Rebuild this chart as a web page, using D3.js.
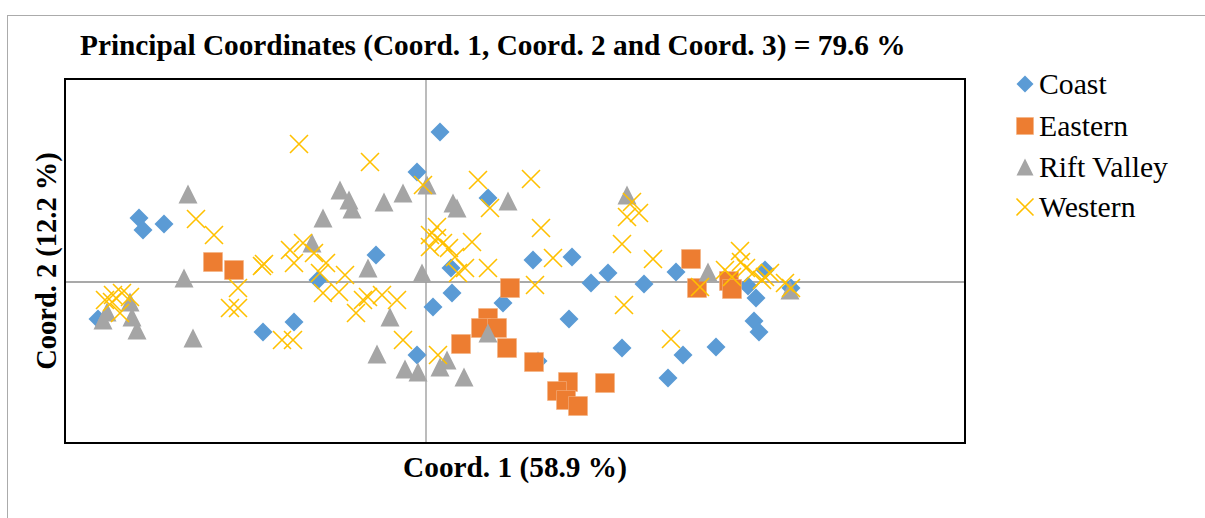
<!DOCTYPE html>
<html><head><meta charset="utf-8">
<script src="https://cdn.jsdelivr.net/npm/d3@7"></script>
<style>body{margin:0;background:#fff}svg{display:block}</style>
</head><body>
<script>
// ---- data (Coord.1, Coord.2) ----
const coast = [[0.014,0.150],[-0.009,0.110],[-0.287,0.064],[-0.283,0.052],[-0.262,0.058],[0.062,0.084],[-0.050,0.027],[-0.108,0.002],[0.025,0.014],[0.007,-0.025],[0.026,-0.011],[0.077,-0.021],[0.107,0.022],[0.146,0.025],[0.165,-0.001],[0.182,0.009],[0.218,-0.002],[0.250,0.010],[0.143,-0.037],[0.196,-0.066],[-0.163,-0.050],[-0.132,-0.040],[-0.009,-0.073],[0.242,-0.096],[0.257,-0.073],[0.290,-0.065],[0.322,-0.004],[0.330,-0.016],[0.328,-0.039],[0.333,-0.050],[0.339,0.012],[0.365,-0.006],[-0.328,-0.037],[0.112,-0.079]];
const eastern = [[-0.213,0.020],[-0.192,0.012],[0.084,-0.006],[0.062,-0.036],[0.055,-0.046],[0.071,-0.046],[0.035,-0.062],[0.081,-0.066],[0.108,-0.080],[0.142,-0.100],[0.131,-0.109],[0.140,-0.118],[0.152,-0.124],[0.179,-0.101],[0.265,0.023],[0.271,-0.006],[0.303,0.001],[0.306,-0.007]];
const riftValley = [[-0.319,-0.030],[-0.323,-0.038],[-0.296,-0.020],[-0.294,-0.035],[-0.289,-0.048],[-0.238,0.088],[-0.242,0.004],[-0.233,-0.056],[-0.086,0.092],[-0.077,0.082],[-0.074,0.073],[-0.042,0.080],[-0.023,0.089],[0.001,0.097],[-0.103,0.064],[-0.114,0.039],[-0.058,0.014],[-0.004,0.009],[-0.036,-0.035],[-0.049,-0.072],[0.027,0.079],[0.031,0.074],[0.082,0.081],[0.062,-0.051],[0.021,-0.078],[0.014,-0.085],[-0.021,-0.087],[-0.008,-0.090],[0.038,-0.095],[0.201,0.087],[0.282,0.010],[0.364,-0.008]];
const western = [[-0.127,0.138],[-0.056,0.120],[-0.003,0.097],[-0.230,0.063],[-0.212,0.047],[-0.164,0.016],[-0.162,0.018],[-0.136,0.032],[-0.123,0.039],[-0.132,0.019],[-0.112,0.029],[-0.100,0.019],[-0.106,0.009],[-0.081,0.007],[-0.103,-0.011],[-0.087,-0.010],[-0.070,-0.031],[-0.063,-0.018],[-0.058,-0.015],[-0.044,-0.013],[-0.029,-0.018],[-0.023,-0.058],[-0.188,-0.006],[-0.196,-0.026],[-0.188,-0.026],[-0.144,-0.058],[-0.133,-0.058],[-0.313,-0.013],[-0.304,-0.011],[-0.314,-0.020],[-0.296,-0.015],[-0.306,-0.031],[-0.321,-0.018],[0.052,0.102],[0.105,0.103],[0.064,0.074],[0.115,0.054],[0.011,0.055],[0.004,0.047],[0.011,0.044],[0.004,0.035],[0.017,0.039],[0.023,0.034],[0.029,0.025],[0.046,0.040],[0.039,0.014],[0.032,0.009],[0.062,0.014],[0.127,0.024],[0.109,-0.003],[0.012,-0.073],[0.198,-0.023],[0.206,0.080],[0.201,0.065],[0.213,0.069],[0.196,0.038],[0.227,0.023],[0.245,-0.057],[0.274,-0.005],[0.314,0.031],[0.315,0.020],[0.299,0.012],[0.306,0.005],[0.320,0.014],[0.327,0.009],[0.339,0.005],[0.344,0.009],[0.336,0.002],[0.359,-0.001],[0.365,-0.006]];
const seriesNames = ["Coast","Eastern","Rift Valley","Western"];
const seriesColors = ["#5B9BD5","#ED7D31","#A5A5A5","#FFC000"];
const xDomain = [-0.361, 0.539];
const yDomain = [-0.161, 0.203];
const titleText = "Principal Coordinates (Coord. 1, Coord. 2 and Coord. 3) = 79.6 %";
const xTitle = "Coord. 1 (58.9 %)";
const yTitle = "Coord. 2 (12.2 %)";

// ---- layout ----
const W = 1205, H = 518;
const plot = {l:65, r:965, t:79, b:443};
const FONT = "'Liberation Serif','Times New Roman',serif";
const svg = d3.select("body").append("svg").attr("width",W).attr("height",H);
const x = d3.scaleLinear().domain(xDomain).range([plot.l, plot.r]);
const y = d3.scaleLinear().domain(yDomain).range([plot.b, plot.t]);

// outer chart border
svg.append("rect").attr("x",7.5).attr("y",15.5).attr("width",1400).attr("height",700)
  .attr("fill","none").attr("stroke","#ababab").attr("stroke-width",1);

// title
svg.append("text").attr("x",80).attr("y",55).attr("font-family",FONT)
  .attr("font-weight","bold").attr("font-size",29.3).attr("fill","#000").text(titleText);

// axes through origin (no ticks)
const g = svg.append("g");
g.append("line").attr("x1",x(0)).attr("x2",x(0)).attr("y1",plot.t).attr("y2",plot.b)
  .attr("stroke","#a6a6a6").attr("stroke-width",1.5);
g.append("line").attr("x1",plot.l).attr("x2",plot.r).attr("y1",y(0)).attr("y2",y(0))
  .attr("stroke","#8c8c8c").attr("stroke-width",1.5);

// marker generators
function marker(sel, i, s){
  const h = s/2;
  if(i===0) sel.append("path").attr("d",`M0,${-h}L${h},0L0,${h}L${-h},0Z`).attr("fill",seriesColors[i]);
  else if(i===1) sel.append("path").attr("d",`M${-h},${-h}H${h}V${h}H${-h}Z`).attr("fill",seriesColors[i]).attr("stroke","#f4b183").attr("stroke-width",0.6);
  else if(i===2) sel.append("path").attr("d",`M0,${-h}L${h},${h}L${-h},${h}Z`).attr("fill",seriesColors[i]);
  else sel.append("path").attr("d",`M${-h},${-h}L${h},${h}M${h},${-h}L${-h},${h}`).attr("fill","none").attr("stroke",seriesColors[i]).attr("stroke-width",1.6);
}
[coast, eastern, riftValley, western].forEach((data,i)=>{
  const sg = g.append("g");
  sg.selectAll("g").data(data).join("g")
    .attr("transform",d=>`translate(${x(d[0])},${y(d[1])})`)
    .each(function(){ marker(d3.select(this), i, i===3?18:19); });
});

// plot frame
svg.append("rect").attr("x",plot.l).attr("y",plot.t).attr("width",plot.r-plot.l).attr("height",plot.b-plot.t)
  .attr("fill","none").attr("stroke","#000").attr("stroke-width",2);

// axis titles
svg.append("text").attr("x",(plot.l+plot.r)/2).attr("y",477).attr("text-anchor","middle")
  .attr("font-family",FONT).attr("font-weight","bold").attr("font-size",29.3).text(xTitle);
svg.append("text").attr("transform",`translate(56,${(plot.t+plot.b)/2}) rotate(-90)`).attr("text-anchor","middle")
  .attr("font-family",FONT).attr("font-weight","bold").attr("font-size",28.5).text(yTitle);

// legend
const lg = svg.append("g");
const rowsY = [84,126,167,207];
seriesNames.forEach((n,i)=>{
  const r = lg.append("g").attr("transform",`translate(1025,${rowsY[i]})`);
  marker(r, i, 17);
  r.append("text").attr("x",14).attr("y",10).attr("font-family",FONT)
    .attr("font-size",29.7).attr("fill","#000").text(n);
});
</script>
</body></html>
